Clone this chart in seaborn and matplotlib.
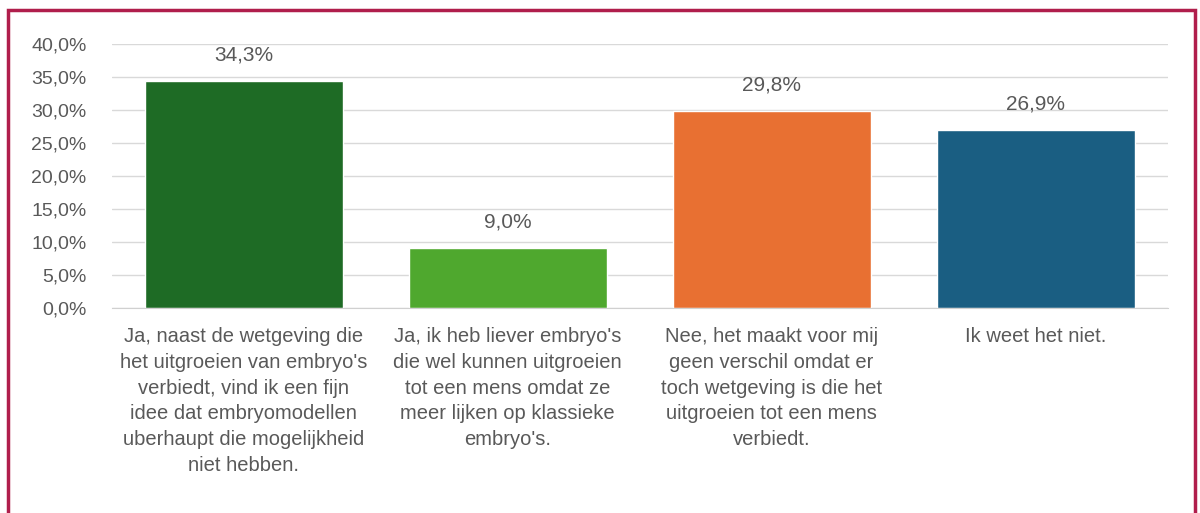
import matplotlib
matplotlib.use('Agg')
import matplotlib.pyplot as plt
import seaborn as sns
import pandas as pd
from matplotlib.patches import Rectangle
from matplotlib.ticker import FuncFormatter
from matplotlib import font_manager

categories = [
    "Ja, naast de wetgeving die\nhet uitgroeien van embryo's\nverbiedt, vind ik een fijn\nidee dat embryomodellen\nuberhaupt die mogelijkheid\nniet hebben.",
    "Ja, ik heb liever embryo's\ndie wel kunnen uitgroeien\ntot een mens omdat ze\nmeer lijken op klassieke\nembryo's.",
    "Nee, het maakt voor mij\ngeen verschil omdat er\ntoch wetgeving is die het\nuitgroeien tot een mens\nverbiedt.",
    "Ik weet het niet.",
]
percentages = [34.3, 9.0, 29.8, 26.9]
bar_colors = ['#1e6b25', '#4fa82e', '#e87032', '#1a5e82']
y_ticks = [0, 5, 10, 15, 20, 25, 30, 35, 40]

sns.set_style('white')
names = {f.name for f in font_manager.fontManager.ttflist}
family = ['Liberation Sans Narrow', 'DejaVu Sans'] if 'Liberation Sans Narrow' in names else ['Liberation Sans', 'DejaVu Sans']
plt.rcParams['font.family'] = family

text_color = '#595959'

df = pd.DataFrame({'categorie': categories, 'percentage': percentages})

fig = plt.figure(figsize=(12, 5.13), dpi=100)
ax = fig.add_axes([0.093, 0.40, 0.88, 0.515])

sns.barplot(data=df, x='categorie', y='percentage', hue='categorie',
            palette=bar_colors, legend=False, width=0.75, saturation=1, ax=ax)

ax.set_ylim(0, 40)
ax.set_yticks(y_ticks)
ax.yaxis.set_major_formatter(FuncFormatter(lambda v, p: f'{v:.1f}%'.replace('.', ',')))
ax.grid(axis='y', color='#d9d9d9', linewidth=1)
ax.set_axisbelow(True)
for side in ['top', 'right', 'left']:
    ax.spines[side].set_visible(False)
ax.spines['bottom'].set_color('#d0d0d0')
ax.tick_params(axis='y', length=0, labelsize=14, colors=text_color, pad=18)
ax.tick_params(axis='x', length=0, colors=text_color, pad=14)
ax.set_xticks(range(len(categories)))
ax.set_xticklabels(categories, fontsize=14.5, linespacing=1.45, va='top')
ax.set_xlabel('')
ax.set_ylabel('')

for i, v in enumerate(percentages):
    ax.annotate(f'{v:.1f}%'.replace('.', ','), (i, v), xytext=(0, 12),
                textcoords='offset points', ha='center', va='bottom',
                fontsize=15, color=text_color)

# dark red frame around the figure
fig.patches.append(Rectangle((0.007, -0.05), 0.989, 1.03, transform=fig.transFigure,
                             fill=False, edgecolor='#b01e4c', linewidth=2.5))

fig.savefig('out.png', dpi=100)
